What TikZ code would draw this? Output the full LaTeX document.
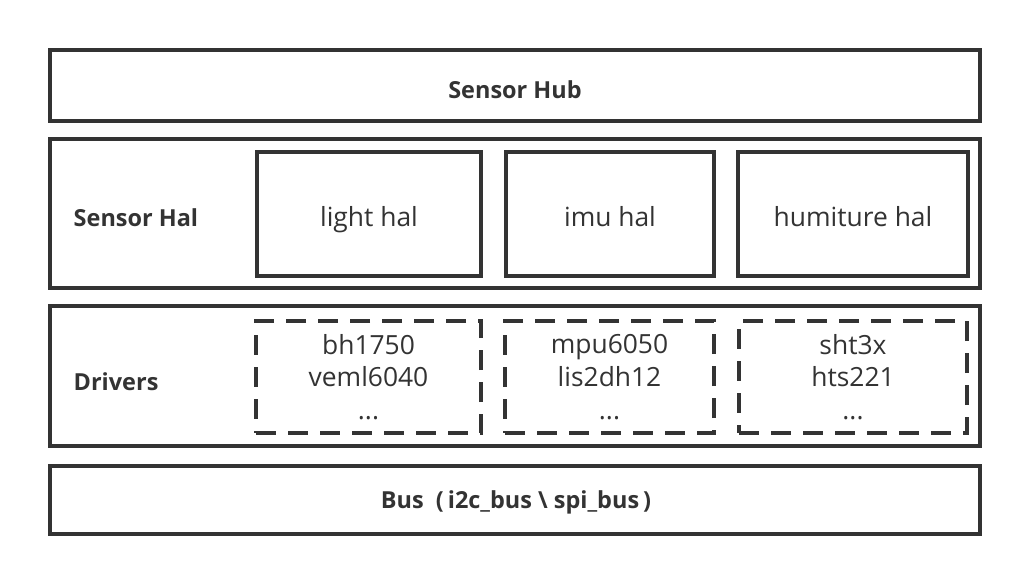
\documentclass[tikz,border=0pt]{standalone}
\usepackage{fontspec}
\setmainfont{Open Sans}
\begin{document}
\begin{tikzpicture}[x=0.75pt,y=-0.75pt,
  lc/.style={draw=black!80, line width=3pt},
  layer/.style={lc, rectangle, minimum width=930pt*0.75, inner sep=0pt},
  halbox/.style={lc, rectangle, inner sep=0pt, text height=18pt, text depth=0pt, font=\fontsize{19.8}{23}\selectfont, text=black!80},
  drvbox/.style={draw=black!80, line width=3pt, dash pattern=on 15pt off 9pt, rectangle, inner sep=0pt, align=center, font=\fontsize{19.8}{24.6}\selectfont, text=black!80},
  lbl/.style={font=\bfseries\fontsize{17.6}{20}\selectfont, text=black!80}
]
\useasboundingbox (0,0) rectangle (1032,583);
% layers
\node[layer, minimum height=71*0.75pt] (hub) at (515,85.5) {};
\node[layer, minimum height=149*0.75pt] (hal) at (515,213.5) {};
\node[layer, minimum height=140*0.75pt] (drv) at (515,376) {};
\node[layer, minimum height=68*0.75pt] (bus) at (515,500) {};
\node[lbl] (hubt) at (515,89.5) {Sensor Hub};
\node[lbl, anchor=west] (halt) at (69,218) {Sensor Hal};
\node[lbl, anchor=west] (drvt) at (69,382) {Drivers};
\node[lbl] (bust) at (516,502) {Bus\ \ (\,i2c\_bus \textbackslash{} spi\_bus\,)};
% hal boxes
\node[halbox, minimum width=224*0.75pt, minimum height=124*0.75pt] (light) at (369,214) {light hal};
\node[halbox, minimum width=208*0.75pt, minimum height=124*0.75pt] (imu) at (610,214) {imu hal};
\node[halbox, minimum width=230*0.75pt, minimum height=124*0.75pt] (humi) at (853,214) {humiture hal};
% driver boxes
\node[drvbox, minimum width=225*0.75pt, minimum height=112*0.75pt] (d1) at (368.5,377) {bh1750\\veml6040\\...};
\node[drvbox, minimum width=209*0.75pt, minimum height=112*0.75pt] (d2) at (609.5,377) {mpu6050\\lis2dh12\\...};
\node[drvbox, minimum width=228*0.75pt, minimum height=112*0.75pt] (d3) at (853,377) {sht3x\\hts221\\...};
\end{tikzpicture}
\end{document}
